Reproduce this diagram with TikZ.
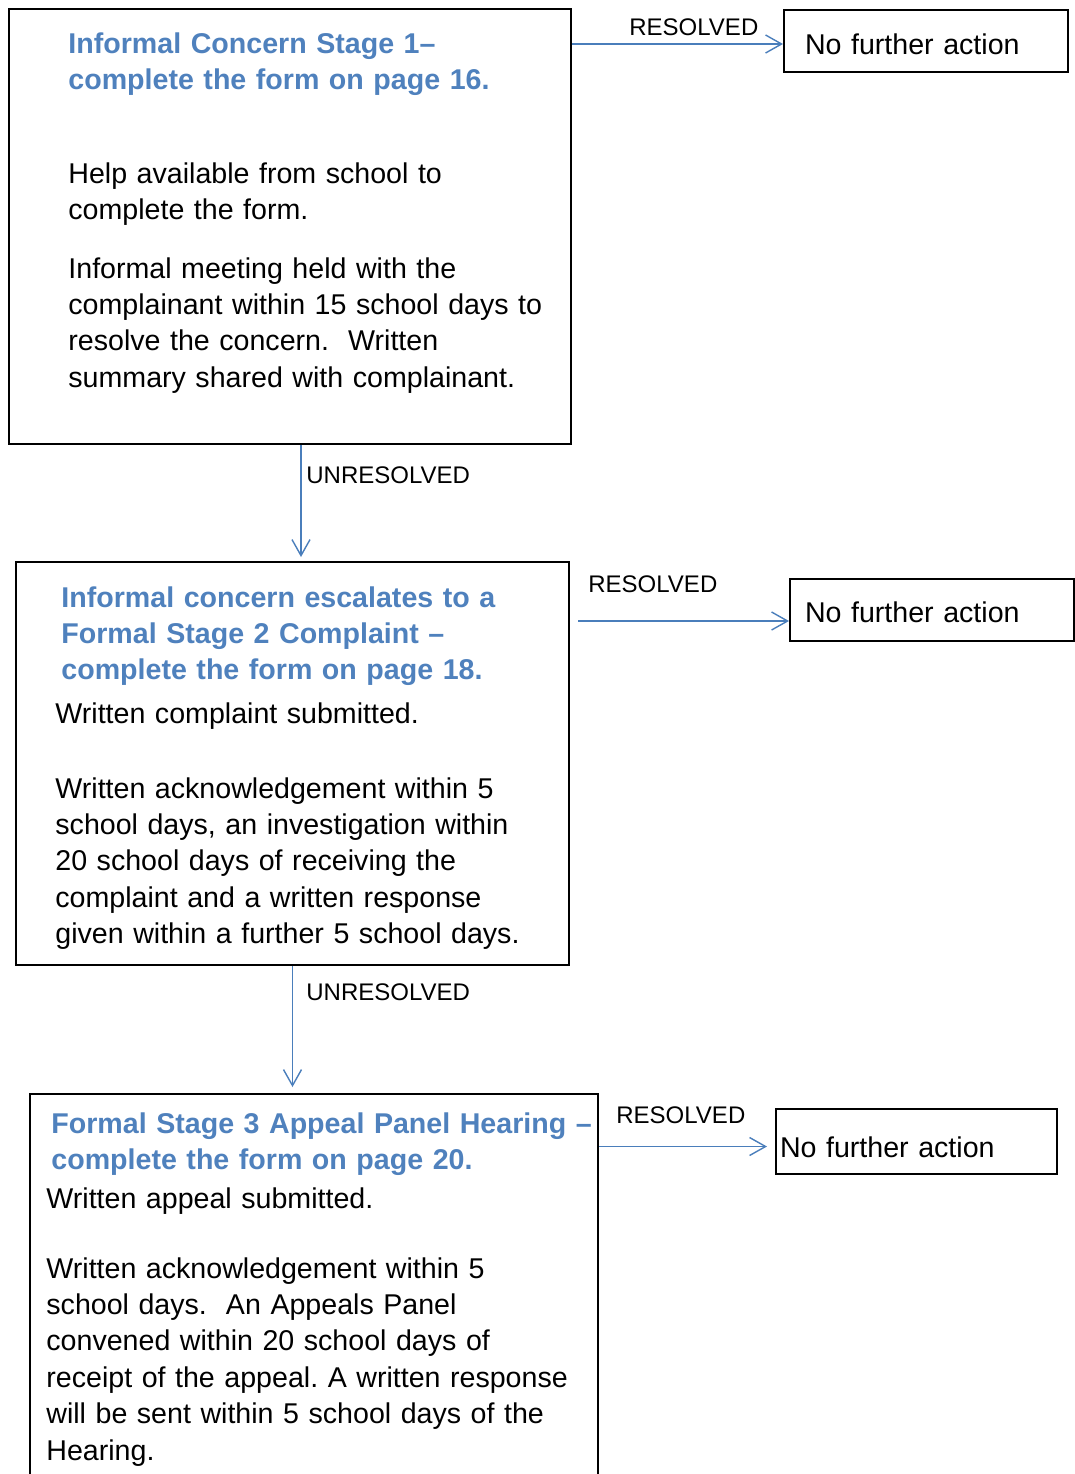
\documentclass[tikz,border=0pt]{standalone}
\usepackage{fontspec}
\setmainfont{Liberation Sans}
\usepackage{tikz}
\usetikzlibrary{arrows.meta}
\frenchspacing

\definecolor{titleblue}{HTML}{4F81BD}
\definecolor{lineblue}{HTML}{4A7EBB}

\tikzset{
  stagebox/.style={draw, line width=1pt, inner sep=0pt},
  endbox/.style={draw, line width=1pt, inner ysep=0pt, text depth=0pt, align=left, font=\fontsize{14.3}{18.2}\selectfont},
  titletext/.style={anchor=base west, inner sep=0pt, text width=300pt, align=left, text=titleblue, font=\bfseries\fontsize{14.3}{18.2}\selectfont},
  bodytext/.style={anchor=base west, inner sep=0pt, text width=300pt, align=left, font=\fontsize{14.3}{18.2}\selectfont},
  lbl/.style={anchor=base west, inner sep=0pt, font=\fontsize{12}{14}\selectfont},
  flow/.style={draw=lineblue, line width=0.7pt, -{Straight Barb[length=8pt,width=9pt]}}
}

\begin{document}
\begin{tikzpicture}[x=0.5pt, y=-0.5pt]
\useasboundingbox (0,0) rectangle (1075,1474);
\clip (0,0) rectangle (1075,1474);

% stage 1
\node[stagebox, minimum width=281pt, minimum height=217.5pt] (s1) at (290,226.5) {};
\node[titletext] (t1) at (68,53) {Informal Concern Stage 1--\\complete the form on page 16.};
\node[bodytext] (p11) at (68,183) {Help available from school to\\complete the form.};
\node[bodytext] (p12) at (68,278) {Informal meeting held with the\\complainant within 15 school days to\\resolve the concern.\ \ Written\\summary shared with complainant.};

% stage 2
\node[stagebox, minimum width=276.5pt, minimum height=201.5pt] (s2) at (292.5,763.5) {};
\node[titletext] (t2) at (61,607) {Informal concern escalates to a\\Formal Stage 2 Complaint --\\complete the form on page 18.};
\node[bodytext] (p21) at (55,723) {Written complaint submitted.};
\node[bodytext] (p22) at (55,798) {Written acknowledgement within 5\\school days, an investigation within\\20 school days of receiving the\\complaint and a written response\\given within a further 5 school days.};

% stage 3 (runs off the page)
\node[stagebox, minimum width=284pt, minimum height=210pt] (s3) at (314,1304) {};
\node[titletext] (t3) at (51,1133) {Formal Stage 3 Appeal Panel Hearing --\\complete the form on page 20.};
\node[bodytext] (p31) at (46,1208) {Written appeal submitted.};
\node[bodytext] (p32) at (46,1278) {Written acknowledgement within 5\\school days.\ \ An Appeals Panel\\convened within 20 school days of\\receipt of the appeal. A written response\\will be sent within 5 school days of the\\Hearing.};

% outcomes
\node[endbox, text width=121pt, inner xsep=10.5pt, minimum height=31pt, text height=13.2pt] (r1) at (926,41) {No further action};
\node[endbox, text width=127pt, inner xsep=7.5pt, minimum height=31pt, text height=12.2pt] (r2) at (932,610) {No further action};
\node[endbox, text width=136.5pt, inner xsep=2pt, minimum height=32.5pt, text height=15.7pt] (r3) at (916.5,1141.5) {No further action};

% connectors
\draw[flow] ([yshift=-1.5pt]r1.west -| s1.east) -- ([yshift=-1.5pt]r1.west);
\draw[flow, shorten <=4pt] ([yshift=-5.5pt]r2.west -| s2.east) -- ([yshift=-5.5pt]r2.west);
\draw[flow, shorten >=4pt] ([yshift=-2.5pt]r3.west -| s3.east) -- ([yshift=-2.5pt]r3.west);
\draw[flow, shorten >=2pt] ([xshift=5.5pt]s1.south) -- ([xshift=5.5pt]s1.south |- s2.north);
\draw[flow, shorten >=3pt] (s2.south) -- (s2.south |- s3.north);

\node[lbl] (res1) at (629,35) {RESOLVED};
\node[lbl] (res2) at (588,592) {RESOLVED};
\node[lbl] (res3) at (616,1123) {RESOLVED};
\node[lbl] (unres1) at (306,483) {UNRESOLVED};
\node[lbl] (unres2) at (306,1000) {UNRESOLVED};
\end{tikzpicture}
\end{document}
